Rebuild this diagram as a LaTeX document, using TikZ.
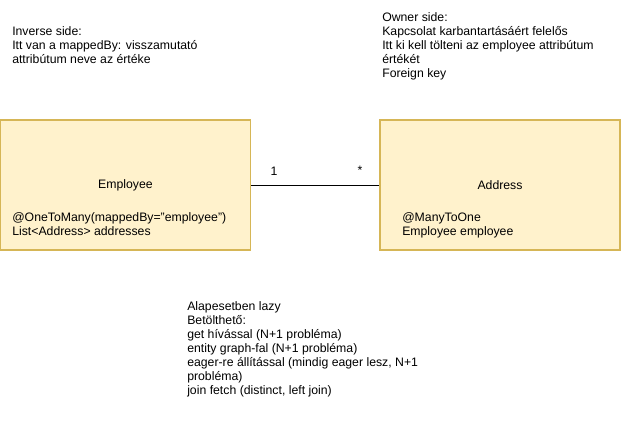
\documentclass[tikz,border=0pt]{standalone}
\usepackage{fontspec}
\setmainfont{Liberation Sans}
\definecolor{boxfill}{HTML}{FFF2CC}
\definecolor{boxdraw}{HTML}{D6B656}
\begin{document}
\begin{tikzpicture}[x=0.75pt,y=-0.75pt,
  txt/.style={font=\fontsize{9.2}{10.5}\selectfont, inner sep=0pt, align=left, anchor=north west},
  classbox/.style={draw=boxdraw, fill=boxfill, line width=0.9pt, minimum width=187.5pt, minimum height=97.5pt, inner sep=0pt, font=\fontsize{9.2}{10.5}\selectfont}]
\useasboundingbox (0,0) rectangle (621,421);
\node[classbox] (emp) at (125.5,185) {Employee};
\node[classbox, minimum width=180pt] (addr) at (500,185) {Address};
\node[txt] (empattr) at (12,212.5) {@OneToMany(mappedBy="employee")\\List<Address> addresses};
\node[txt] (addrattr) at (402,212.5) {@ManyToOne\\Employee employee};
\draw[line width=0.75pt] (emp.east) -- (addr.west);
\node[font=\fontsize{9.2}{10.5}\selectfont, inner sep=0pt] (m1) at (274,171) {1};
\node[font=\fontsize{9.2}{10.5}\selectfont, inner sep=0pt] (m2) at (360,170) {*};
\node[txt] (inv) at (12,26.5) {Inverse side:\\Itt van a mappedBy: visszamutató\\attribútum neve az értéke};
\node[txt] (own) at (382,12.5) {Owner side:\\Kapcsolat karbantartásáért felelős\\Itt ki kell tölteni az employee attribútum\\értékét\\Foreign key};
\node[txt] (lazy) at (187,301.5) {Alapesetben lazy\\Betölthető:\\get hívással (N+1 probléma)\\entity graph-fal (N+1 probléma)\\eager-re állítással (mindig eager lesz, N+1\\probléma)\\join fetch (distinct, left join)};
\end{tikzpicture}
\end{document}
